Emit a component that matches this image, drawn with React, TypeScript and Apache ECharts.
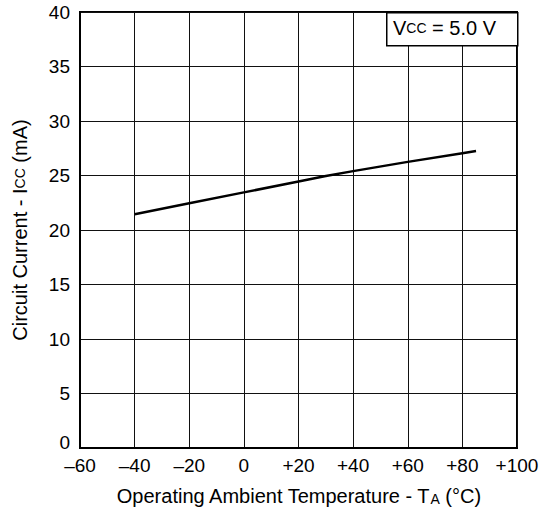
import React, { useEffect, useRef } from "react";
import * as echarts from "echarts";

const temps = [-40, -20, 0, 20, 30, 40, 60, 80, 85];
const currents = [21.45, 22.45, 23.45, 24.45, 24.95, 25.4, 26.25, 27.05, 27.25];
const xTicks = ["–60", "–40", "–20", "0", "+20", "+40", "+60", "+80", "+100"];
const xTickValues = [-60, -40, -20, 0, 20, 40, 60, 80, 100];

export default function App() {
  const ref = useRef<HTMLDivElement>(null);
  useEffect(() => {
    if (!ref.current) return;
    const chart = echarts.init(ref.current, undefined, { renderer: "svg" });
    const font = "Liberation Sans, Arial, sans-serif";
    chart.setOption({
      animation: false,
      backgroundColor: "#fff",
      grid: {
        left: 80,
        right: 28,
        top: 12,
        bottom: 63,
        containLabel: false,
        show: true,
        borderColor: "#000",
        borderWidth: 2,
        backgroundColor: "transparent",
      },
      xAxis: {
        type: "value",
        min: -60,
        max: 100,
        interval: 20,
        name: "Operating Ambient Temperature - T{s|A} (°C)",
        nameLocation: "middle",
        nameGap: 38,
        nameTextStyle: {
          fontFamily: font,
          fontSize: 20,
          color: "#000",
          rich: { s: { fontFamily: font, fontSize: 14, color: "#000", verticalAlign: "bottom", padding: [6, 0, 0, 0] } },
        },
        axisLine: { show: true, onZero: false, lineStyle: { color: "#000", width: 2 } },
        axisTick: { show: false },
        splitLine: { show: true, lineStyle: { color: "#111", width: 1 } },
        axisLabel: {
          fontFamily: font,
          fontSize: 19,
          color: "#000",
          margin: 8,
          formatter: (v: number) => xTicks[xTickValues.indexOf(v)] ?? String(v),
        },
      },
      yAxis: {
        type: "value",
        min: 0,
        max: 40,
        interval: 5,
        name: "Circuit Current - I{s|CC} (mA)",
        nameLocation: "middle",
        nameGap: 50,
        nameTextStyle: {
          fontFamily: font,
          fontSize: 20,
          color: "#000",
          rich: { s: { fontFamily: font, fontSize: 14, color: "#000" } },
        },
        axisLine: { show: true, onZero: false, lineStyle: { color: "#000", width: 2 } },
        axisTick: { show: false },
        splitLine: { show: true, lineStyle: { color: "#111", width: 1 } },
        axisLabel: {
          fontFamily: font,
          fontSize: 19,
          color: "#000",
          margin: 10,
          formatter: (v: number) => (v === 0 ? "{z|0}" : String(v)),
          rich: { z: { fontFamily: font, fontSize: 19, color: "#000", lineHeight: 19, padding: [0, 0, 12, 0] } },
        },
      },
      graphic: [
        {
          type: "rect",
          left: 386,
          top: 12,
          shape: { width: 131, height: 33 },
          style: { fill: "#fff", stroke: "#000", lineWidth: 1.5 },
          z: 100,
        },
        {
          type: "text",
          left: 393,
          top: 18,
          z: 101,
          style: {
            text: "V{s|CC} = 5.0 V",
            fontFamily: font,
            fontSize: 20,
            fill: "#000",
            rich: { s: { fontFamily: font, fontSize: 14, fill: "#000" } },
          },
        },
      ],
      series: [
        {
          type: "line",
          data: temps.map((t, i) => [t, currents[i]]),
          showSymbol: false,
          lineStyle: { color: "#000", width: 2.5 },
          z: 10,
        },
      ],
    });
    return () => chart.dispose();
  }, []);
  return <div ref={ref} style={{ position: "fixed", left: 0, top: 0, width: 545, height: 511 }} />;
}
